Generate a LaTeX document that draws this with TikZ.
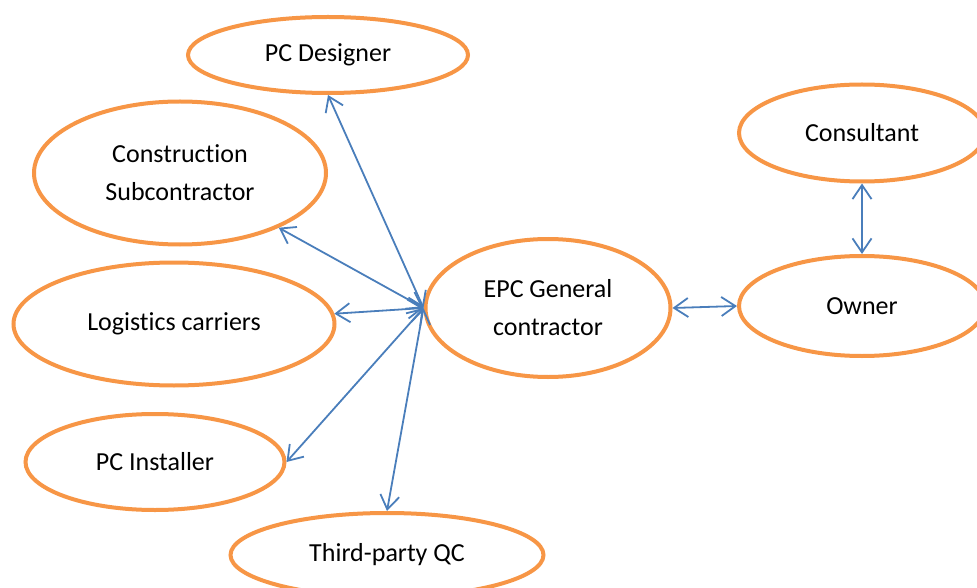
\documentclass[tikz,border=0pt]{standalone}
\usepackage{fontspec}
\setmainfont{Carlito}[Ligatures=NoCommon]
\usetikzlibrary{shapes.geometric,arrows.meta}
\definecolor{ellorange}{HTML}{F79646}
\definecolor{arrblue}{HTML}{4A7EBB}
\begin{document}
\begin{tikzpicture}[x=1pt,y=-1pt,
  actor/.style={ellipse, draw=ellorange, line width=4pt, fill=white, inner sep=0pt, align=center,
    font=\fontsize{26}{38}\selectfont},
  link/.style={draw=arrblue, line width=1.8pt, {Straight Barb[length=14pt,width=19pt]}-{Straight Barb[length=14pt,width=19pt]}}]
\useasboundingbox (0,0) rectangle (977,588);
\node[actor, minimum width=280pt, minimum height=76pt] (pcd) at (328,55) {PC Designer};
\node[actor, minimum width=292pt, minimum height=143pt] (cons) at (180,173) {Construction\\Subcontractor};
\node[actor, minimum width=321pt, minimum height=123pt] (logi) at (174,324) {Logistics carriers};
\node[actor, minimum width=259pt, minimum height=96pt] (inst) at (155,462) {PC Installer};
\node[actor, minimum width=313pt, minimum height=84pt] (qc) at (387,555) {Third-party QC};
\node[actor, minimum width=245pt, minimum height=138pt] (epc) at (548,308) {EPC General\\contractor};
\node[actor, minimum width=246pt, minimum height=97pt] (consl) at (862,133) {Consultant};
\node[actor, minimum width=246pt, minimum height=100pt] (owner) at (862,306) {Owner};
\draw[link] (epc.west) -- (pcd.south);
\draw[link] (epc.west) -- (cons);
\draw[link] (epc.west) -- (logi);
\draw[link] (epc.west) -- (inst.east);
\draw[link] (epc.west) -- (qc.north);
\draw[link] (epc.east) -- (owner.west);
\draw[link] (consl.south) -- (owner.north);
\end{tikzpicture}
\end{document}
